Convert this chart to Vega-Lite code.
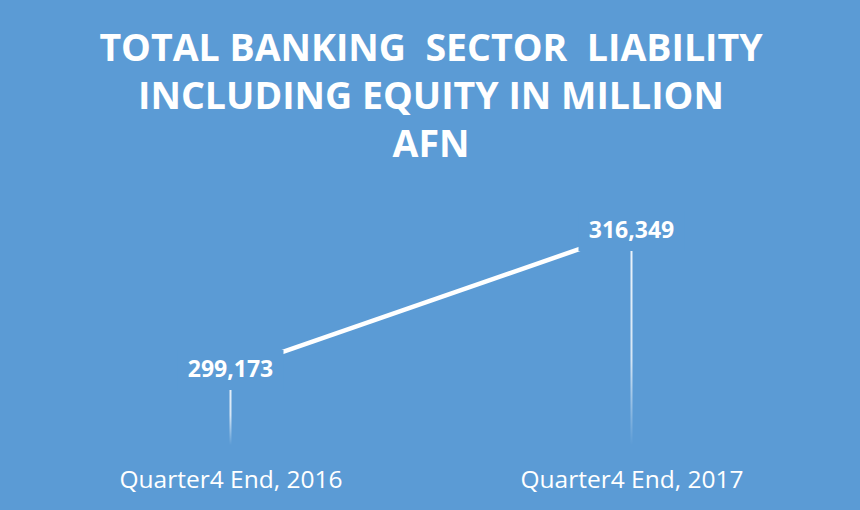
{
  "$schema": "https://vega.github.io/schema/vega-lite/v6.json",
  "width": 802,
  "height": 255,
  "autosize": {"type": "none"},
  "padding": {"left": 30, "top": 190, "right": 28, "bottom": 65},
  "background": "#5B9BD5",
  "config": {"view": {"stroke": null}},
  "title": {
    "text": ["TOTAL BANKING\u00a0\u00a0SECTOR\u00a0\u00a0LIABILITY", "INCLUDING EQUITY IN MILLION", "AFN"],
    "color": "white",
    "font": "Open Sans",
    "fontSize": 37.5,
    "fontWeight": "bold",
    "lineHeight": 48,
    "anchor": "middle",
    "offset": 26
  },
  "data": {
    "values": [
      {"period": "Quarter4 End, 2016", "value": 299173, "label": "299,173"},
      {"period": "Quarter4 End, 2017", "value": 316349, "label": "316,349"}
    ]
  },
  "encoding": {
    "x": {
      "field": "period",
      "type": "ordinal",
      "scale": {"type": "point", "padding": 0.5},
      "axis": {
        "title": null,
        "domain": false,
        "ticks": false,
        "grid": false,
        "labelAngle": 0,
        "labelLimit": 0,
        "labelColor": "white",
        "labelFont": "Open Sans",
        "labelFontSize": 24.5,
        "labelPadding": 23
      }
    },
    "y": {
      "field": "value",
      "type": "quantitative",
      "scale": {"domain": [289905, 321415], "zero": false, "nice": false},
      "axis": null
    }
  },
  "layer": [
    {
      "mark": {
        "type": "bar",
        "width": 2,
        "fill": {
          "gradient": "linear",
          "x1": 0, "y1": 0, "x2": 0, "y2": 1,
          "stops": [
            {"offset": 0, "color": "rgba(255,255,255,0.9)"},
            {"offset": 0.6, "color": "rgba(255,255,255,0.75)"},
            {"offset": 1, "color": "rgba(255,255,255,0)"}
          ]
        }
      },
      "encoding": {"y2": {"datum": 289905}}
    },
    {"mark": {"type": "line", "color": "white", "strokeWidth": 4.5}},
    {
      "mark": {
        "type": "point",
        "shape": "M -1 -0.377 L 1 -0.377 L 1 0.377 L -1 0.377 Z",
        "size": 11236,
        "filled": true,
        "fill": "#5B9BD5",
        "opacity": 1,
        "strokeWidth": 0
      }
    },
    {
      "mark": {
        "type": "text",
        "color": "white",
        "font": "Open Sans",
        "fontWeight": "bold",
        "fontSize": 23,
        "baseline": "middle"
      },
      "encoding": {"text": {"field": "label"}}
    }
  ]
}
